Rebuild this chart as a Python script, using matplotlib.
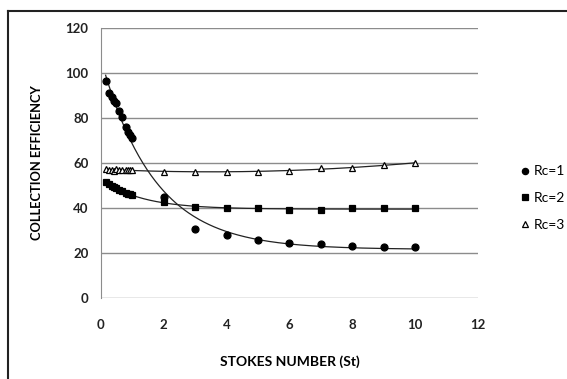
import numpy as np
import matplotlib
matplotlib.use("Agg")
import matplotlib.pyplot as plt
from matplotlib.lines import Line2D

# data
st_small = [0.15, 0.27, 0.34, 0.41, 0.48, 0.58, 0.68, 0.79, 0.85, 0.92, 1.0]
st_big = [2, 3, 4, 5, 6, 7, 8, 9, 10]

rc1_small = [96.6, 91.0, 89.2, 87.7, 86.5, 83.2, 80.3, 76.1, 73.9, 72.4, 71.3]
rc1_big = [45.0, 30.7, 28.2, 25.8, 24.6, 23.8, 23.0, 22.8, 22.8]

rc2_small = [51.5, 50.5, 49.8, 49.2, 48.7, 48.0, 47.4, 46.8, 46.4, 46.1, 45.8]
rc2_big = [42.5, 40.6, 39.8, 39.8, 39.1, 39.2, 39.9, 39.9, 39.8]

rc3_small = [57.2, 56.8, 57.0, 56.6, 57.2, 57.0, 56.8, 57.1, 56.7, 57.0, 56.8]
rc3_big = [55.8, 56.1, 56.1, 56.2, 56.3, 57.9, 58.0, 59.0, 59.9]

labels = ["Rc=1", "Rc=2", "Rc=3"]


def exp_fit(x, y):
    # y = a*exp(-b*x) + c, grid search on b, least squares for a and c
    x = np.asarray(x)
    y = np.asarray(y)
    best = None
    for b in np.linspace(0.05, 3, 600):
        A = np.column_stack([np.exp(-b * x), np.ones_like(x)])
        coef, res, _, _ = np.linalg.lstsq(A, y, rcond=None)
        err = np.sum((A @ coef - y) ** 2)
        if best is None or err < best[0]:
            best = (err, b, coef)
    _, b, (a, c) = best
    return lambda t: a * np.exp(-b * t) + c


plt.rcParams["font.family"] = ["Lato", "DejaVu Sans"]
fig = plt.figure(figsize=(5.67, 3.79), dpi=100)
ax = fig.add_axes([0.178, 0.2137, 0.665, 0.7124])

series = [
    (rc1_small + rc1_big, "o", "black", "black", 5, "exp"),
    (rc2_small + rc2_big, "s", "black", "black", 5, "exp"),
    (rc3_small + rc3_big, "^", "white", "black", 5, "poly"),
]
st_all = np.array(st_small + st_big)
tt = np.linspace(st_all.min(), st_all.max(), 300)

for (vals, mk, fc, ec, ms, kind), lab in zip(series, labels):
    vals = np.array(vals)
    if kind == "exp":
        f = exp_fit(st_all, vals)
        ax.plot(tt, f(tt), color="#222222", lw=0.9, zorder=2)
    else:
        p = np.polyfit(st_all, vals, 2)
        ax.plot(tt, np.polyval(p, tt), color="#222222", lw=0.9, zorder=2)
    ax.plot(st_all, vals, ls="none", marker=mk, mfc=fc, mec=ec, ms=ms,
            mew=0.9, label=lab, zorder=3)

ax.set_xlim(0, 12)
ax.set_ylim(0, 120)
ax.set_xticks(range(0, 13, 2))
ax.set_yticks(range(0, 121, 20))
ax.yaxis.grid(True, color="#8c8c8c", lw=1.0)
ax.set_axisbelow(True)
for s in ["top", "right", "bottom"]:
    ax.spines[s].set_visible(False)
ax.spines["left"].set_color("#8c8c8c")
ax.tick_params(length=0, labelsize=9.5)
ax.tick_params(axis="y", pad=9)
ax.tick_params(axis="x", pad=15)
for t in ax.get_xticklabels() + ax.get_yticklabels():
    t.set_fontweight("bold")
    t.set_color("#222222")

ax.set_xlabel("STOKES NUMBER (St)", fontsize=10, fontweight="bold")
ax.set_ylabel("COLLECTION EFFICIENCY", fontsize=9.3, fontweight="bold")
ax.xaxis.set_label_coords(0.5, -0.213)
ax.yaxis.set_label_coords(-0.154, 0.5)

ax.legend(loc="center left", bbox_to_anchor=(0.902, 0.4776),
          bbox_transform=fig.transFigure, frameon=False, fontsize=10,
          handletextpad=0.1, handlelength=1.0, labelspacing=1.05,
          borderpad=0, markerscale=0.9)

# outer frame of the chart area
fig.add_artist(Line2D([8 / 567, 8 / 567], [0, 1 - 11 / 379], color="#222222", lw=1.5))
fig.add_artist(Line2D([8 / 567, 1], [1 - 11 / 379, 1 - 11 / 379], color="#222222", lw=1.5))

fig.savefig("out.png", dpi=100)
